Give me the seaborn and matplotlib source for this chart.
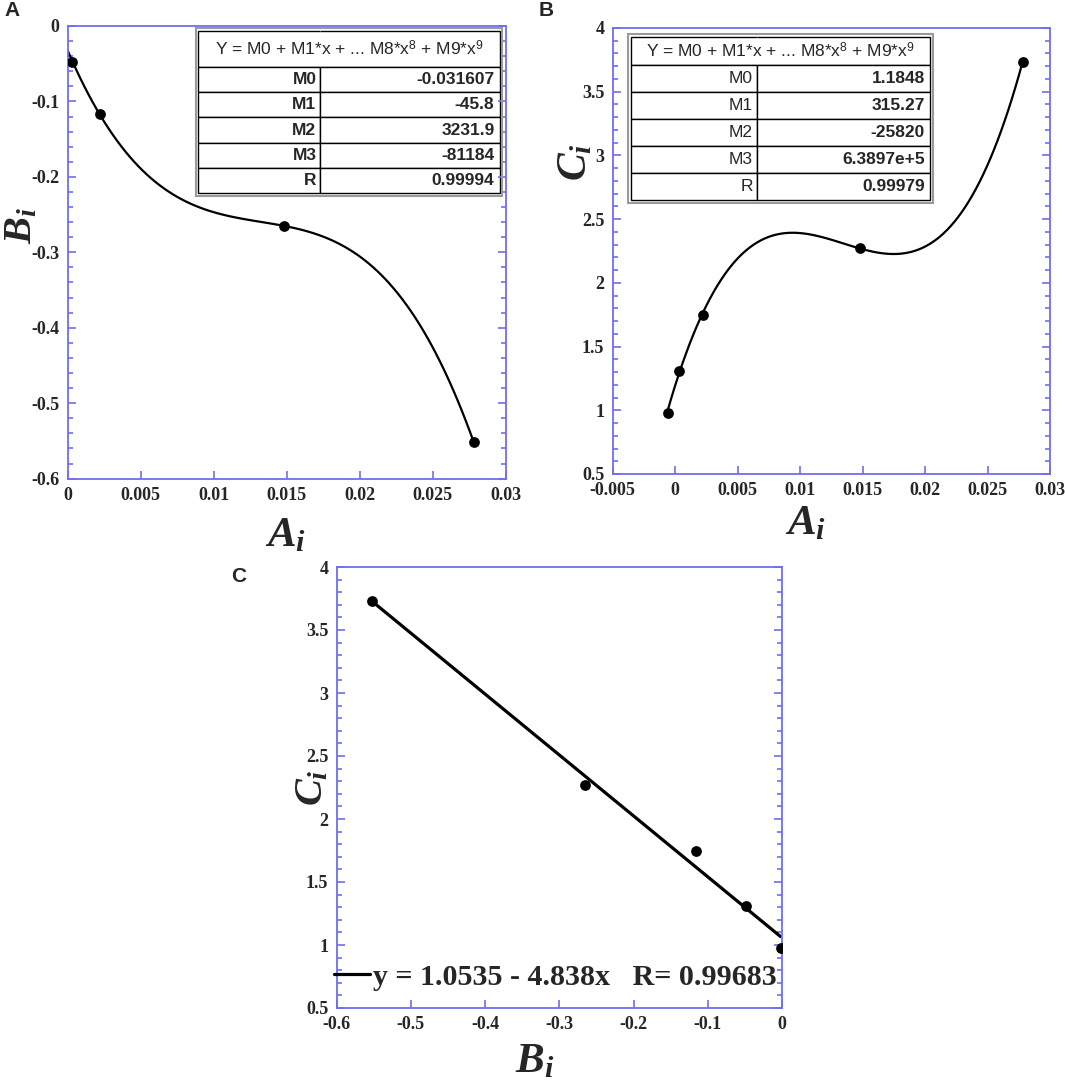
import numpy as np
import pandas as pd
import matplotlib
matplotlib.use("Agg")
import matplotlib.pyplot as plt
import seaborn as sns
from matplotlib.ticker import MultipleLocator, FuncFormatter

# Dados
A_i = [-0.0006, 0.0003, 0.0022, 0.0148, 0.0278]
B_i = [-0.002, -0.048, -0.116, -0.265, -0.552]
C_i = [0.98, 1.31, 1.75, 2.27, 3.73]

# Tabelas de ajuste polinomial
tab_rotulos = ['M0', 'M1', 'M2', 'M3', 'R']
tab_A = ['-0.031607', '-45.8', '3231.9', '-81184', '0.99994']
tab_B = ['1.1848', '315.27', '-25820', '6.3897e+5', '0.99979']
cabecalho = 'Y = M0 + M1*x + ... M8*x$^8$ + M9*x$^9$'
legenda_C = 'y = 1.0535 - 4.838x   R= 0.99683'

df = pd.DataFrame({'A': A_i, 'B': B_i, 'C': C_i})

sns.set_style('ticks')
plt.rcParams['font.family'] = ['Liberation Serif', 'DejaVu Serif']
plt.rcParams['axes.unicode_minus'] = False
plt.rcParams['mathtext.fontset'] = 'custom'
plt.rcParams['mathtext.it'] = 'Liberation Serif:italic:bold'
plt.rcParams['mathtext.rm'] = 'Liberation Sans'
plt.rcParams['mathtext.bf'] = 'Liberation Serif:bold'

azul = '#6e6ef0'
W, H = 1065, 1082
fig = plt.figure(figsize=(W / 100, H / 100), dpi=100)


def eixo(x0, y0, x1, y1):
    return fig.add_axes([x0 / W, 1 - y1 / H, (x1 - x0) / W, (y1 - y0) / H])


def estilo(ax, xlim, ylim, xmaj, ymaj, ymin):
    ax.set_xlim(*xlim)
    ax.set_ylim(*ylim)
    ax.xaxis.set_major_locator(MultipleLocator(xmaj))
    ax.yaxis.set_major_locator(MultipleLocator(ymaj))
    ax.yaxis.set_minor_locator(MultipleLocator(ymin))
    fmt = FuncFormatter(lambda v, p: '%g' % round(v, 6))
    ax.xaxis.set_major_formatter(fmt)
    ax.yaxis.set_major_formatter(fmt)
    for s in ax.spines.values():
        s.set_visible(True)
        s.set_color(azul)
        s.set_linewidth(1.3)
    ax.tick_params(axis='both', which='both', direction='in', color=azul, width=1.2)
    ax.tick_params(axis='y', which='both', left=True, right=True)
    ax.tick_params(axis='x', which='both', bottom=True, top=False)
    ax.tick_params(which='major', length=6, labelsize=13, pad=6)
    ax.tick_params(which='minor', length=3.5)
    for lb in ax.get_xticklabels() + ax.get_yticklabels():
        lb.set_fontweight('bold')


def tabela(ax, bbox, valores, rotulo_negrito, split, cab_ratio):
    linhas = [['', '']] + [[r, v] for r, v in zip(tab_rotulos, valores)]
    t = ax.table(cellText=linhas, cellLoc='right', bbox=bbox,
                 colWidths=[split, 1 - split])
    t.auto_set_font_size(False)
    t.set_fontsize(12.5)
    for (r, c), cell in t.get_celld().items():
        cell.set_edgecolor('black')
        cell.set_linewidth(1.0)
        cell.PAD = 0.03
        txt = cell.get_text()
        txt.set_fontfamily('Liberation Sans')
        if c == 1 or rotulo_negrito:
            txt.set_fontweight('bold')
        if r == 0:
            cell.visible_edges = 'BTL' if c == 0 else 'BTR'
            cell.set_height(cell.get_height() * cab_ratio)
    x0, y0, w, h = bbox
    frac = cab_ratio / (cab_ratio + len(valores))
    ax.text(x0 + w / 2, y0 + h - h * frac / 2, cabecalho, transform=ax.transAxes,
            ha='center', va='center', fontsize=12.5, family='Liberation Sans',
            zorder=10)
    ax.add_patch(plt.Rectangle((x0 - 0.006, y0 - 0.006), w + 0.012, h + 0.012,
                               transform=ax.transAxes, fill=False, ec='#9a9a9a',
                               lw=1.5, clip_on=False, zorder=9))


scatter_kws = dict(s=60, color='black', alpha=1, zorder=4, linewidths=0)

# Painel A
axA = eixo(67.5, 26, 506, 478.6)
sns.regplot(data=df, x='A', y='B', order=3, ci=None, ax=axA,
            scatter_kws=scatter_kws, line_kws=dict(color='black', lw=1.6))
estilo(axA, (0, 0.03), (-0.6, 0), 0.005, 0.1, 0.02)
axA.set_xlabel('$A_i$', fontsize=31)
axA.set_ylabel('$B_i$', fontsize=29)
axA.xaxis.set_label_coords(0.498, -0.085)
axA.yaxis.set_label_coords(-0.063, 0.56)
tabela(axA, [0.298, 0.631, 0.688, 0.358], tab_A, True, 0.404, 1.43)

# Painel B
axB = eixo(612.6, 28, 1050, 474)
sns.regplot(data=df, x='A', y='C', order=3, ci=None, ax=axB,
            scatter_kws=scatter_kws, line_kws=dict(color='black', lw=1.6))
estilo(axB, (-0.005, 0.03), (0.5, 4), 0.005, 0.5, 0.1)
axB.set_xlabel('$A_i$', fontsize=31)
axB.set_ylabel('$C_i$', fontsize=30)
axB.xaxis.set_label_coords(0.442, -0.07)
axB.yaxis.set_label_coords(-0.04, 0.70)
tabela(axB, [0.042, 0.614, 0.684, 0.366], tab_B, False, 0.42, 1.04)

# Painel C
axC = eixo(336.7, 567, 782, 1008)
sns.regplot(data=df, x='B', y='C', order=1, ci=None, ax=axC,
            scatter_kws=scatter_kws,
            line_kws=dict(color='black', lw=2.3, label=legenda_C))
estilo(axC, (-0.6, 0), (0.5, 4), 0.1, 0.5, 0.1)
axC.set_xlabel('$B_i$', fontsize=31)
axC.set_ylabel('$C_i$', fontsize=29)
axC.xaxis.set_label_coords(0.445, -0.08)
axC.yaxis.set_label_coords(-0.012, 0.50)
axC.legend(loc='center left', bbox_to_anchor=(-0.005, 0.07), frameon=False,
           borderpad=0, borderaxespad=0, handlelength=1.2, handletextpad=0.1,
           prop=dict(family='Liberation Serif', weight='bold', size=21.6))

# Letras dos painéis
for txt, x, y in [('A', 4, 16), ('B', 539, 16), ('C', 231, 582)]:
    fig.text(x / W, 1 - y / H, txt, fontsize=15, fontweight='bold',
             family='Liberation Sans')

fig.savefig('out.png', dpi=100)
